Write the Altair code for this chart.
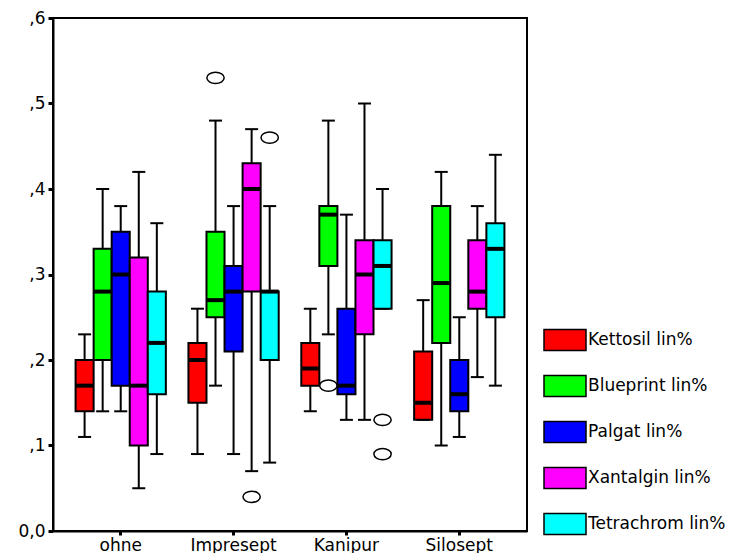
import altair as alt
import pandas as pd

groups = ["ohne", "Impresept", "Kanipur", "Silosept"]
series = ["Kettosil lin%", "Blueprint lin%", "Palgat lin%", "Xantalgin lin%", "Tetrachrom lin%"]
colors = ["#ff0000", "#00ff00", "#0000ff", "#ff00ff", "#00ffff"]

# values per series, in the order of groups
whisker_low = {
    "Kettosil lin%":   [0.11, 0.09, 0.14, 0.13],
    "Blueprint lin%":  [0.14, 0.17, 0.23, 0.10],
    "Palgat lin%":     [0.14, 0.09, 0.13, 0.11],
    "Xantalgin lin%":  [0.05, 0.07, 0.13, 0.18],
    "Tetrachrom lin%": [0.09, 0.08, 0.26, 0.17],
}
quart1 = {
    "Kettosil lin%":   [0.14, 0.15, 0.17, 0.13],
    "Blueprint lin%":  [0.20, 0.25, 0.31, 0.22],
    "Palgat lin%":     [0.17, 0.21, 0.16, 0.14],
    "Xantalgin lin%":  [0.10, 0.28, 0.23, 0.26],
    "Tetrachrom lin%": [0.16, 0.20, 0.26, 0.25],
}
median = {
    "Kettosil lin%":   [0.17, 0.20, 0.19, 0.15],
    "Blueprint lin%":  [0.28, 0.27, 0.37, 0.29],
    "Palgat lin%":     [0.30, 0.28, 0.17, 0.16],
    "Xantalgin lin%":  [0.17, 0.40, 0.30, 0.28],
    "Tetrachrom lin%": [0.22, 0.28, 0.31, 0.33],
}
quart3 = {
    "Kettosil lin%":   [0.20, 0.22, 0.22, 0.21],
    "Blueprint lin%":  [0.33, 0.35, 0.38, 0.38],
    "Palgat lin%":     [0.35, 0.31, 0.26, 0.20],
    "Xantalgin lin%":  [0.32, 0.43, 0.34, 0.34],
    "Tetrachrom lin%": [0.28, 0.28, 0.34, 0.36],
}
whisker_high = {
    "Kettosil lin%":   [0.23, 0.26, 0.26, 0.27],
    "Blueprint lin%":  [0.40, 0.48, 0.48, 0.42],
    "Palgat lin%":     [0.38, 0.38, 0.37, 0.25],
    "Xantalgin lin%":  [0.42, 0.47, 0.50, 0.38],
    "Tetrachrom lin%": [0.36, 0.38, 0.40, 0.44],
}

outlier_group = ["Impresept", "Impresept", "Impresept", "Kanipur", "Kanipur", "Kanipur"]
outlier_series = ["Blueprint lin%", "Xantalgin lin%", "Tetrachrom lin%",
                  "Blueprint lin%", "Tetrachrom lin%", "Tetrachrom lin%"]
outlier_value = [0.53, 0.04, 0.46, 0.17, 0.13, 0.09]

rows = []
for s in series:
    for i, g in enumerate(groups):
        rows.append({"group": g, "series": s,
                     "lo": whisker_low[s][i], "q1": quart1[s][i], "med": median[s][i],
                     "q3": quart3[s][i], "hi": whisker_high[s][i]})
df = pd.DataFrame(rows)
out_df = pd.DataFrame({"group": outlier_group, "series": outlier_series, "value": outlier_value})

FONT = "DejaVu Sans"

x_enc = alt.X("group:N", sort=groups,
              scale=alt.Scale(paddingInner=0.2, paddingOuter=0.2),
              axis=alt.Axis(title=None, labelAngle=0, labelFont=FONT, labelFontSize=17,
                            labelColor="black", tickSize=4, tickWidth=3, tickColor="black",
                            domainColor="black", domainWidth=2, labelPadding=2))
xo_enc = alt.XOffset("series:N", sort=series, scale=alt.Scale(paddingInner=0, paddingOuter=0))
y_scale = alt.Scale(domain=[0, 0.6], nice=False)
y_axis = alt.Axis(title=None, values=[0, 0.1, 0.2, 0.3, 0.4, 0.5, 0.6], grid=False,
                  labelExpr="datum.value == 0 ? '0,0' : replace(format(datum.value, '.1f'), '0.', ',')",
                  labelFont=FONT, labelFontSize=17, labelColor="black",
                  tickSize=5, tickWidth=3, tickColor="black", domainColor="black",
                  domainWidth=2, labelPadding=3, minExtent=45, maxExtent=45)

base = alt.Chart(df)

whiskers = base.mark_rule(color="black", strokeWidth=2, opacity=1).encode(
    x=x_enc, xOffset=xo_enc,
    y=alt.Y("lo:Q", scale=y_scale, axis=y_axis), y2="hi:Q")

cap_lo = base.mark_tick(color="black", size=13, thickness=2, orient="horizontal", opacity=1).encode(
    x=x_enc, xOffset=xo_enc, y=alt.Y("lo:Q", scale=y_scale))
cap_hi = base.mark_tick(color="black", size=13, thickness=2, orient="horizontal", opacity=1).encode(
    x=x_enc, xOffset=xo_enc, y=alt.Y("hi:Q", scale=y_scale))

boxes = base.mark_bar(stroke="black", strokeWidth=2, opacity=1).encode(
    x=x_enc, xOffset=xo_enc,
    y=alt.Y("q1:Q", scale=y_scale), y2="q3:Q",
    color=alt.Color("series:N", sort=series,
                    scale=alt.Scale(domain=series, range=colors),
                    legend=alt.Legend(title=None, orient="none", legendX=490, legendY=300,
                                      symbolType="M-1,-0.5H1V0.5H-1Z", symbolSize=1764,
                                      symbolStrokeColor="black", symbolStrokeWidth=1.5,
                                      symbolOpacity=1,
                                      labelFont=FONT, labelFontSize=17, labelColor="black",
                                      labelOffset=1, rowPadding=10, padding=0,
                                      labelLimit=300)))

medians = base.mark_tick(color="black", size=18, thickness=4, orient="horizontal", opacity=1).encode(
    x=x_enc, xOffset=xo_enc, y=alt.Y("med:Q", scale=y_scale))

outliers = alt.Chart(out_df).mark_point(
    shape="M-1,0A1,0.65 0 1,0 1,0A1,0.65 0 1,0 -1,0Z", size=300,
    filled=True, fill="white", stroke="black", strokeWidth=1.5, opacity=1).encode(
    x=x_enc, xOffset=xo_enc, y=alt.Y("value:Q", scale=y_scale))

chart = alt.layer(whiskers, cap_lo, cap_hi, boxes, medians, outliers).properties(
    width=474, height=513,
    background="white",
    padding={"left": 0, "top": 1, "right": 5, "bottom": 0},
).configure_view(stroke="black", strokeWidth=2)

chart.save("out.html", embed_options={"renderer": "svg", "actions": False})
